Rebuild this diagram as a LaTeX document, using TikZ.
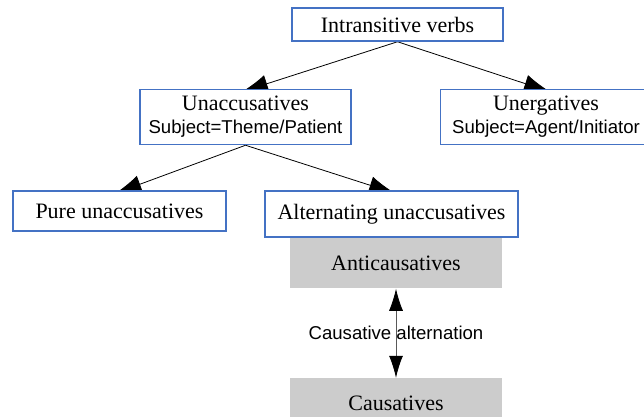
\documentclass[tikz,border=0pt]{standalone}
\usepackage{fontspec}
\setmainfont{Liberation Serif}
\setsansfont{Liberation Sans}
\usetikzlibrary{positioning,arrows.meta}

\pgfdeclarelayer{background}
\pgfsetlayers{background,main}

\definecolor{boxblue}{RGB}{68,114,196}
\definecolor{boxgray}{RGB}{204,204,204}
\newcommand{\subjline}[1]{\\\sffamily\fontsize{9.3bp}{11.5bp}\selectfont #1}

\begin{document}
\begin{tikzpicture}[>={Latex[length=13bp,width=9bp]}, line width=0.5bp,
    class node/.style={draw=boxblue, line width=0.75bp, fill=white, inner sep=0pt,
        align=center, font=\fontsize{11bp}{11.5bp}\selectfont},
    verb node/.style={fill=boxgray, inner sep=0pt, minimum width=106bp,
        minimum height=25bp, font=\fontsize{11bp}{11.5bp}\selectfont}]

    \useasboundingbox (0,0) rectangle (322bp,-208.5bp);

    \node[class node, minimum width=105.5bp, minimum height=16.5bp] (iv) at (198.75bp,-12.25bp) {Intransitive verbs};
    \node[class node, minimum width=105.5bp, minimum height=27.5bp] (unacc) [below=23.5bp of iv, xshift=-76bp]
        {Unaccusatives\subjline{Subject=Theme/Patient}};
    \node[class node, minimum width=105.5bp, minimum height=27.5bp] (unerg) [below=23.5bp of iv, xshift=74.25bp]
        {Unergatives\subjline{Subject=Agent/Initiator}};
    \node[class node, minimum width=106.5bp, minimum height=20bp] (pure) [below=22.5bp of unacc, xshift=-63bp] {Pure unaccusatives};
    \node[class node, minimum width=126.5bp, minimum height=23bp] (alt) [below=22.5bp of unacc, xshift=73bp] {Alternating unaccusatives};
    \node[verb node] (anti) [below=0pt of alt, xshift=2.25bp] {Anticausatives};
    \node[verb node] (caus) [below=44.5bp of anti] {Causatives};

    % Tree of classes (tips hidden a little under the boxes)
    \begin{pgfonlayer}{background}
    \path[->]
        (iv.south) edge ([xshift=-1.75bp, yshift=-1.5bp]unacc.north)
        (iv.south) edge ([xshift=2bp, yshift=-1.5bp]unerg.north)
        (unacc.south) edge ([xshift=-2bp, yshift=-1.5bp]pure.north)
        (unacc.south) edge ([xshift=1.75bp, yshift=-1.5bp]alt.north);
    \end{pgfonlayer}

    % Alternation
    \draw[{Latex[length=11bp,width=7bp,color=black]}-{Latex[length=11bp,width=7bp,color=black]}, draw=black!65] (anti) -- (caus)
        node[midway, font=\sffamily\fontsize{9.3bp}{11bp}\selectfont] (altlabel) {Causative alternation};

\end{tikzpicture}
\end{document}
